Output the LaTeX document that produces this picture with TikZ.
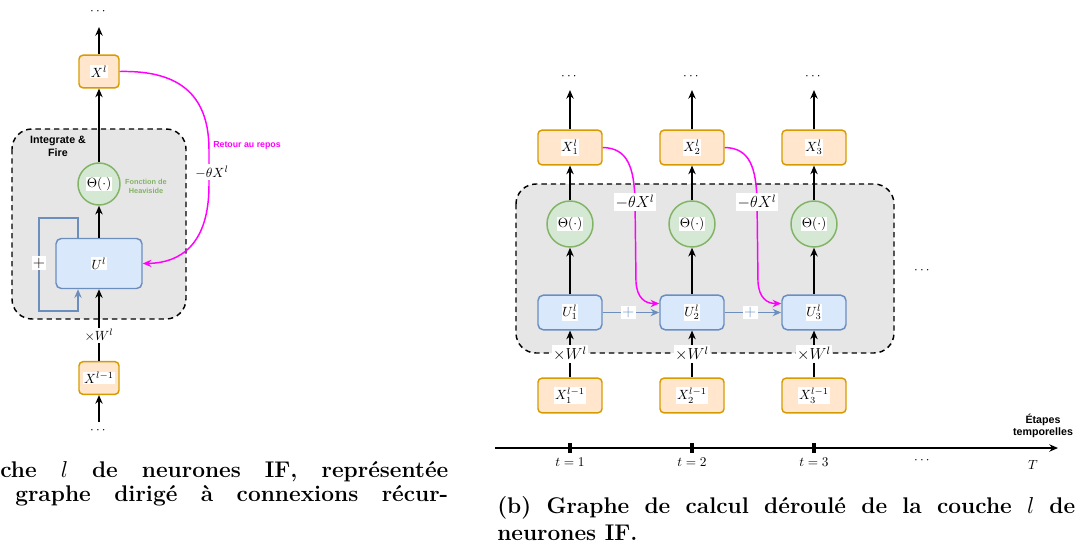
\documentclass[tikz,border=0pt]{standalone}
\usepackage{amsmath,amssymb}
\usepackage{fontspec}
\usetikzlibrary{arrows.meta,calc}
\newfontfamily\labelsans{Liberation Sans}
\definecolor{xfill}{RGB}{255,230,204}
\definecolor{xdraw}{RGB}{215,155,0}
\definecolor{ufill}{RGB}{218,232,252}
\definecolor{udraw}{RGB}{108,142,191}
\definecolor{thfill}{RGB}{213,232,212}
\definecolor{thdraw}{RGB}{130,179,102}
\definecolor{ifgray}{RGB}{230,230,230}
\definecolor{resetc}{RGB}{255,0,255}
\newcommand{\wbg}[1]{{\setlength{\fboxsep}{0.6pt}\colorbox{white}{#1}}}

\begin{document}
\begin{tikzpicture}[x=0.75pt,y=0.75pt,yscale=-1,xscale=1,
  xbox/.style={draw=xdraw,fill=xfill,line width=1.1pt,rounded corners=3pt,inner sep=1pt},
  xsmall/.style={xbox,minimum width=30pt,minimum height=24.5pt},
  xwide/.style={xbox,minimum width=48pt,minimum height=26pt},
  ubox/.style={draw=udraw,fill=ufill,line width=1.1pt,rounded corners=4pt,inner sep=1pt},
  thnode/.style={circle,draw=thdraw,fill=thfill,line width=1.1pt,inner sep=0pt},
  arr/.style={-{Stealth[length=6.5pt,width=5.5pt]},line width=1.1pt,black},
  blarr/.style={-{Stealth[length=6.5pt,width=5.5pt]},line width=1.1pt,udraw},
  reset/.style={-{Stealth[length=6.5pt,width=5.5pt]},line width=1.1pt,resetc},
  ifbox/.style={draw=black,fill=ifgray,line width=1.1pt,dash pattern=on 4pt off 3pt,rounded corners=15pt},
  wlab/.style={fill=white,inner sep=1pt},
  biglab/.style={wlab,font=\fontsize{11.5}{13}\selectfont},
  sanslab/.style={font=\labelsans\bfseries\fontsize{8}{9.5}\selectfont,align=center},
  capt/.style={font=\fontsize{17}{20}\selectfont\bfseries,anchor=base west,inner sep=0pt}
]
\useasboundingbox (0,0) rectangle (1079,547);

%%%%%%%%%% (a) recurrent graph
%Rounded Rect: Integrate & Fire
\draw[ifbox] (12,129) rectangle (186,319);
% Text Node
\node[sanslab] (iflab) at (58,146.5) {Integrate \&\\Fire};

%Shapes
\node[xsmall] (xl) at (99,71.5) {\wbg{$X^{l}$}};
\node[thnode,minimum size=31.5pt] (th) at (99,184) {\wbg{$\Theta(\cdot)$}};
\node[ubox,minimum width=64.5pt,minimum height=37.5pt] (ul) at (99,263.5) {\wbg{$U^{l}$}};
\node[xsmall] (xlm) at (99,378) {\wbg{$X^{l-1}$}};
\node (dtop) at (99,12) {$\cdots$};
\node (dbot) at (99,431) {$\cdots$};
\coordinate (atop) at (99,27);
\coordinate (abot) at (99,422);

%Straight Lines
\draw[arr] (xl) -- (atop);
\draw[arr] (th) -- (xl);
\draw[arr] (ul) -- (th);
\draw[arr] (xlm) -- (ul) node[wlab,pos=0.36] (wl) {$\times W^{l}$};
\draw[arr] (abot) -- (xlm);
%Blue loop
\draw[blarr] ($(ul.north)+(-21,0)$) |- (39,218) -- (39,311) -| ($(ul.south)+(-21,0)$);
\node[biglab] (pl) at (39,263) {$+$};
%Curve Lines: reset
\draw[reset] (xl.east) .. controls (185,70) and (209,100) .. (209,150) -- (209,185) .. controls (209,245) and (180,263) .. (ul.east);
\node[wlab] (rl) at (212,172) {$-\theta X^{l}$};
% Text Node
\node[sanslab,font=\labelsans\bfseries\fontsize{6.6}{8}\selectfont,text=resetc] (rtxt) at (247,145) {Retour au repos};
\node[sanslab,font=\labelsans\bfseries\fontsize{5.5}{7.2}\selectfont,text=thdraw] (hv) at (146,186.5) {Fonction de\\Heaviside};

%%%%%%%%%% (b) unrolled graph
%Rounded Rect
\draw[ifbox] (516,184) rectangle (894,353);

\foreach \i/\x in {1/570,2/692,3/814}{
  \node[xwide] (x\i) at (\x,147.5) {\wbg{$X_{\i}^{l}$}};
  \node[thnode,minimum size=34.5pt] (th\i) at (\x,224) {\wbg{$\Theta(\cdot)$}};
  \node[ubox,minimum width=48pt,minimum height=26pt] (u\i) at (\x,312.5) {\wbg{$U_{\i}^{l}$}};
  \node[xwide] (xm\i) at (\x,395.5) {\wbg{$X_{\i}^{l-1}$}};
  \node (d\i) at (\x,77) {$\cdots$};
  \coordinate (a\i) at (\x,90);
  \draw[arr] (x\i) -- (a\i);
  \draw[arr] (th\i) -- (x\i);
  \draw[arr] (u\i) -- (th\i);
  \draw[arr] (xm\i) -- (u\i) node[biglab,pos=0.5] (w\i) {$\times W^{l}$};
}

\foreach \i/\j/\x in {1/2/570,2/3/692}{
  \draw[blarr] (u\i) -- (u\j) node[biglab,pos=0.45] (p\i) {$+$};
  \draw[reset] (x\i.east) .. controls (\x+58,148) and (\x+64,168) .. (\x+65,200) -- (\x+66,282) .. controls (\x+67,298) and (\x+75,303.5) .. ($(u\j.west)+(0,-9)$);
  \node[biglab] (r\i) at (\x+65,202) {$-\theta X^{l}$};
}
\node (dmid) at (923,271) {$\cdots$};

%Time axis
\coordinate (ax0) at (495,448);
\coordinate (ax1) at (1058,448);
\draw[arr] (ax0) -- (ax1);
\foreach \i/\x in {1/570,2/692,3/814}{
  \node[fill=black,inner sep=0pt,minimum width=3pt,minimum height=7pt] (tick\i) at (\x,448) {};
  \node (tl\i) at (\x,462) {$t=\i$};
}
\node (dax) at (923,461) {$\cdots$};
\node (tT) at (1033,465) {$T$};
\node[sanslab] (etl) at (1043,426) {Étapes\\temporelles};

%%%%%%%%%% captions
\node[capt] (cap1) at (0,477) {\makebox[336pt][s]{che $l$ de neurones IF, représentée}};
\node[capt] (cap2) at (15,501) {\makebox[324.75pt][s]{graphe dirigé à connexions récur-}};
\node[capt] (cap3) at (497,513) {\makebox[433.5pt][s]{(b) Graphe de calcul déroulé de la couche $l$ de}};
\node[capt] (cap4) at (497,540) {neurones IF.};

\end{tikzpicture}
\end{document}
